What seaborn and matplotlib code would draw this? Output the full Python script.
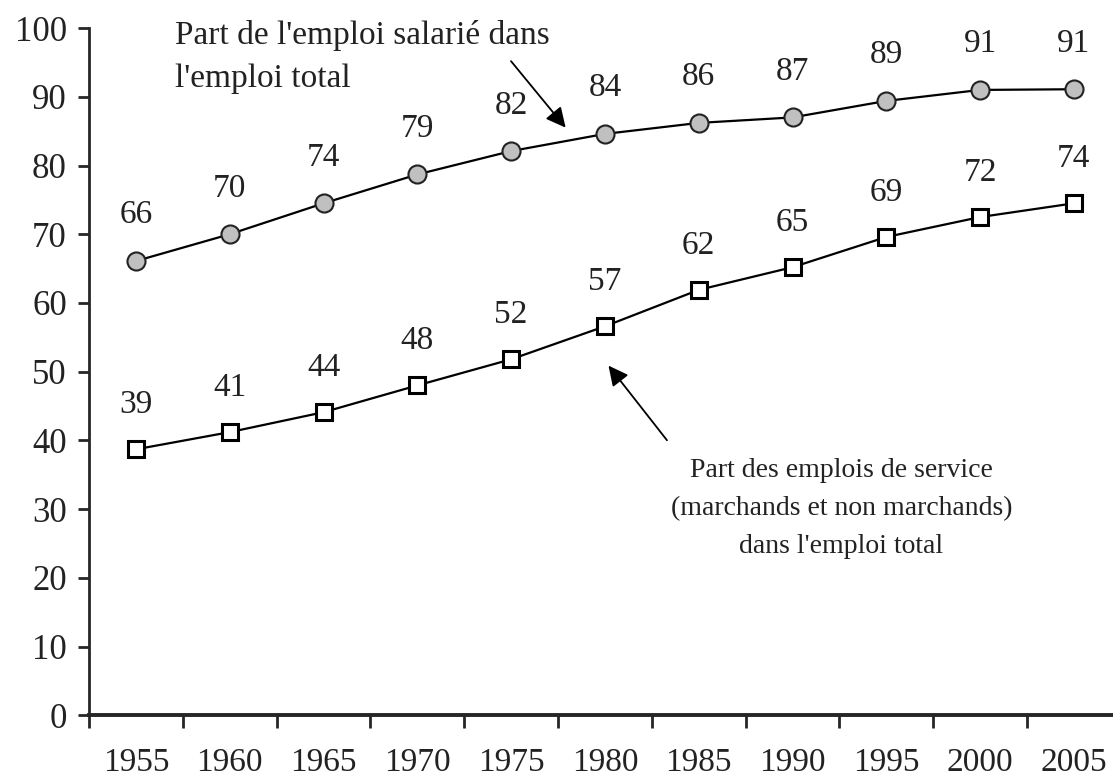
import numpy as np
import pandas as pd
import matplotlib
matplotlib.use("Agg")
import matplotlib.pyplot as plt
import seaborn as sns

# Data
years = [1955, 1960, 1965, 1970, 1975, 1980, 1985, 1990, 1995, 2000, 2005]
salarie = [66.1, 70.0, 74.5, 78.7, 82.1, 84.6, 86.2, 87.0, 89.4, 91.0, 91.1]
salarie_labels = ["66", "70", "74", "79", "82", "84", "86", "87", "89", "91", "91"]
services = [38.7, 41.2, 44.1, 48.0, 51.8, 56.6, 61.9, 65.2, 69.6, 72.5, 74.5]
services_labels = ["39", "41", "44", "48", "52", "57", "62", "65", "69", "72", "74"]

sns.set_style("ticks")
plt.rcParams["font.family"] = ["Liberation Serif", "DejaVu Serif"]

fig = plt.figure(figsize=(11.13, 7.8), dpi=100)
ax = fig.add_axes([0.080, 0.083, 0.927, 0.881])

sns.lineplot(x=years, y=salarie, ax=ax, color="black", linewidth=1.6,
             marker="o", markersize=13, markerfacecolor="#c0c0c0",
             markeredgecolor="#222222", markeredgewidth=1.5)
sns.lineplot(x=years, y=services, ax=ax, color="black", linewidth=1.6,
             marker="s", markersize=12, markerfacecolor="white",
             markeredgecolor="black", markeredgewidth=2.2)

for x, y, t in zip(years, salarie, salarie_labels):
    ax.annotate(t, (x, y), xytext=(0, 33), textcoords="offset points",
                ha="center", va="center", fontsize=24, color="#222222")
for x, y, t in zip(years, services, services_labels):
    ax.annotate(t, (x, y), xytext=(0, 32), textcoords="offset points",
                ha="center", va="center", fontsize=24, color="#222222")

# annotations with arrows
ax.text(1957.1, 101.2, "Part de l'emploi salarié dans\nl'emploi total",
        ha="left", va="top", fontsize=24, linespacing=1.55, color="#222222")
ax.annotate("", xy=(1978.0, 85.2), xytext=(1974.9, 95.5),
            arrowprops=dict(arrowstyle="-|>", color="black", lw=1.3,
                            mutation_scale=30))
ax.annotate("", xy=(1980.1, 51.2), xytext=(1983.4, 39.7),
            arrowprops=dict(arrowstyle="-|>", color="black", lw=1.3,
                            mutation_scale=30))
ax.text(1992.6, 30.1,
        "Part des emplois de service\n(marchands et non marchands)\ndans l'emploi total",
        ha="center", va="center", fontsize=20, linespacing=1.7, color="#222222")

# axes styling
ax.set_xlim(1952.5, 2007.5)
ax.set_ylim(0, 100)
ax.set_yticks(np.arange(0, 101, 10))
ax.set_xticks(years)
ax.set_xticklabels([str(y) for y in years])
ax.set_xticks(np.arange(1952.5, 2008, 5), minor=True)
ax.tick_params(axis="x", which="major", length=0, pad=23, labelsize=24)
ax.tick_params(axis="x", which="minor", length=9, width=2, direction="out")
ax.tick_params(axis="y", length=8, width=2, pad=8, labelsize=25)
for lab in ax.get_xticklabels() + ax.get_yticklabels():
    lab.set_color("#222222")
sns.despine(ax=ax)
ax.spines["left"].set_linewidth(2)
ax.spines["bottom"].set_linewidth(2.8)
ax.set_xlabel("")
ax.set_ylabel("")

for l in ax.get_lines():
    l.set_clip_on(False)

fig.savefig("out.png", dpi=100)
